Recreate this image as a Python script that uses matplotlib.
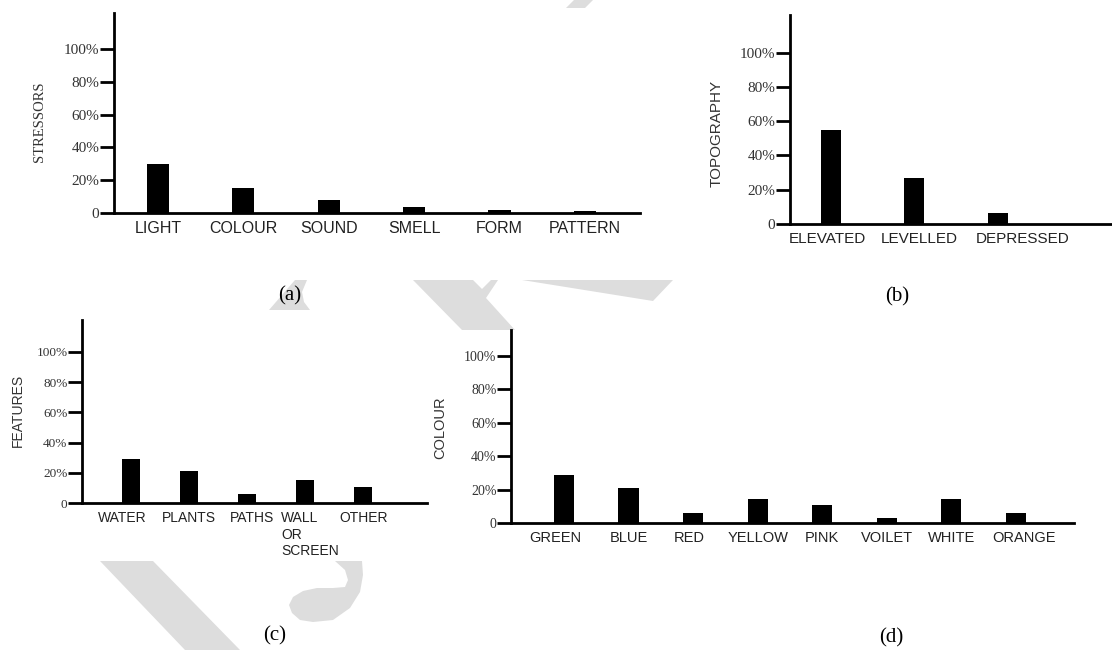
import numpy as np
import matplotlib
matplotlib.use('Agg')
import matplotlib.pyplot as plt
from matplotlib.patches import Polygon
from matplotlib.transforms import ScaledTranslation

# figure size in pixels
W = 1112
H = 650

# (a) stressors
stress_cats = ['LIGHT', 'COLOUR', 'SOUND', 'SMELL', 'FORM', 'PATTERN']
stress_vals = [30, 15, 7.7, 3.8, 2, 1]

# (b) topography
topo_cats = ['ELEVATED', 'LEVELLED', 'DEPRESSED']
topo_vals = [55, 27, 6.6]

# (c) features
feat_cats = ['WATER', 'PLANTS', 'PATHS', 'WALL\nOR\nSCREEN', 'OTHER']
feat_vals = [29, 21, 6, 15, 10.5]

# (d) colour
col_cats = ['GREEN', 'BLUE', 'RED', 'YELLOW', 'PINK', 'VOILET', 'WHITE', 'ORANGE']
col_vals = [29, 21, 6, 14.6, 10.6, 3, 14.6, 6]

y_ticks = [0, 20, 40, 60, 80, 100]
y_tick_labels = ['0', '20%', '40%', '60%', '80%', '100%']

SERIF = 'Liberation Serif'
SANS = 'Liberation Sans'
GREY = '#dddddd'

fig = plt.figure(figsize=(W / 100, H / 100), dpi=100)
fig.patch.set_facecolor('white')


def fx(x):
    return x / W


def fy(y):
    return 1 - y / H


# axes placed by pixel box (top-left origin)
def px_axes(left, top, right, bottom):
    ax = fig.add_axes([fx(left), fy(bottom), (right - left) / W, (bottom - top) / H])
    ax.set_facecolor('white')
    return ax


def draw_panel(ax, cats, vals, width, xlim, ylim, tick_fs, cat_fs, label_shift=None):
    x = np.arange(len(cats))
    ax.bar(x, vals, width=width, color='black', zorder=3)
    ax.set_xlim(*xlim)
    ax.set_ylim(*ylim)
    ax.spines['top'].set_visible(False)
    ax.spines['right'].set_visible(False)
    for s in ['left', 'bottom']:
        ax.spines[s].set_linewidth(2.0)
        ax.spines[s].set_color('black')
    ax.set_yticks(y_ticks)
    ax.set_yticklabels(y_tick_labels, fontfamily=SERIF, fontsize=tick_fs, color='#333333')
    ax.tick_params(axis='y', length=10, width=2.0, pad=0.5, color='black')
    ax.set_xticks(x)
    labels = ax.set_xticklabels(cats, fontfamily=SANS, fontsize=cat_fs, color='#222222',
                                multialignment='left', va='top')
    ax.tick_params(axis='x', length=0, pad=6)
    # nudge some labels sideways like in the original
    if label_shift:
        for lab, dx in zip(labels, label_shift):
            if dx:
                lab.set_transform(lab.get_transform() + ScaledTranslation(dx / 100, 0, fig.dpi_scale_trans))


# watermark pieces, drawn under the panels
wm_shapes = [
    [(413, 280), (473, 280), (482, 289), (491, 280), (498, 280), (486, 298), (515, 330), (462, 330)],
    [(522, 280), (673, 280), (653, 301)],
    [(566, 8), (585, 8), (593, 0), (574, 0)],
    [(269, 310), (295, 280), (307, 280), (302, 292), (304, 302), (310, 310)],
    [(100, 561), (153, 561), (240, 650), (185, 650)],
    [(362, 561), (363, 575), (360, 592), (350, 608), (333, 620), (313, 622), (300, 620),
     (292, 613), (289, 605), (293, 597), (303, 591), (317, 588), (333, 588), (345, 587),
     (348, 580), (345, 570), (335, 561)],
]
for pts in wm_shapes:
    poly = Polygon([(fx(a), fy(b)) for a, b in pts], closed=True, transform=fig.transFigure,
                   facecolor=GREY, edgecolor='none', zorder=-5)
    fig.patches.append(poly)

# panel (a)
ax_a = px_axes(114, 13, 640, 213)
draw_panel(ax_a, stress_cats, stress_vals, 0.26, (-0.515, 5.644), (0, 122), 11, 11.5)
fig.text(fx(39), fy(122), 'STRESSORS', rotation=90, ha='center', va='center',
         fontfamily=SERIF, fontsize=10.5, color='#333333')
fig.text(fx(290), fy(296), '(a)', ha='center', va='center', fontfamily=SERIF, fontsize=15)

# panel (b)
ax_b = px_axes(790, 15, 1112, 224)
draw_panel(ax_b, topo_cats, topo_vals, 0.24, (-0.49, 3.37), (0, 122), 11, 11,
           label_shift=[-4, 5, 25])
fig.text(fx(717), fy(133), 'TOPOGRAPHY', rotation=90, ha='center', va='center',
         fontfamily=SANS, fontsize=11, color='#333333')
fig.text(fx(897), fy(297), '(b)', ha='center', va='center', fontfamily=SERIF, fontsize=15)

# panel (c)
ax_c = px_axes(82, 320, 427, 503)
draw_panel(ax_c, feat_cats, feat_vals, 0.31, (-0.845, 5.1), (0, 121), 9.5, 10,
           label_shift=[-9, 0, 5, 5, 0])
fig.text(fx(18), fy(410), 'FEATURES', rotation=90, ha='center', va='center',
         fontfamily=SANS, fontsize=10, color='#333333')
fig.text(fx(275), fy(636), '(c)', ha='center', va='center', fontfamily=SERIF, fontsize=15)

# panel (d)
ax_d = px_axes(511, 330, 1074, 523)
draw_panel(ax_d, col_cats, col_vals, 0.31, (-0.82, 7.9), (0, 115.6), 10, 10.5,
           label_shift=[-9, 0, -4, 0, 0, 0, 0, 8])
fig.text(fx(440), fy(428), 'COLOUR', rotation=90, ha='center', va='center',
         fontfamily=SANS, fontsize=10.5, color='#333333')
fig.text(fx(891), fy(638), '(d)', ha='center', va='center', fontfamily=SERIF, fontsize=15)

fig.savefig('out.png', dpi=100, facecolor='white')
